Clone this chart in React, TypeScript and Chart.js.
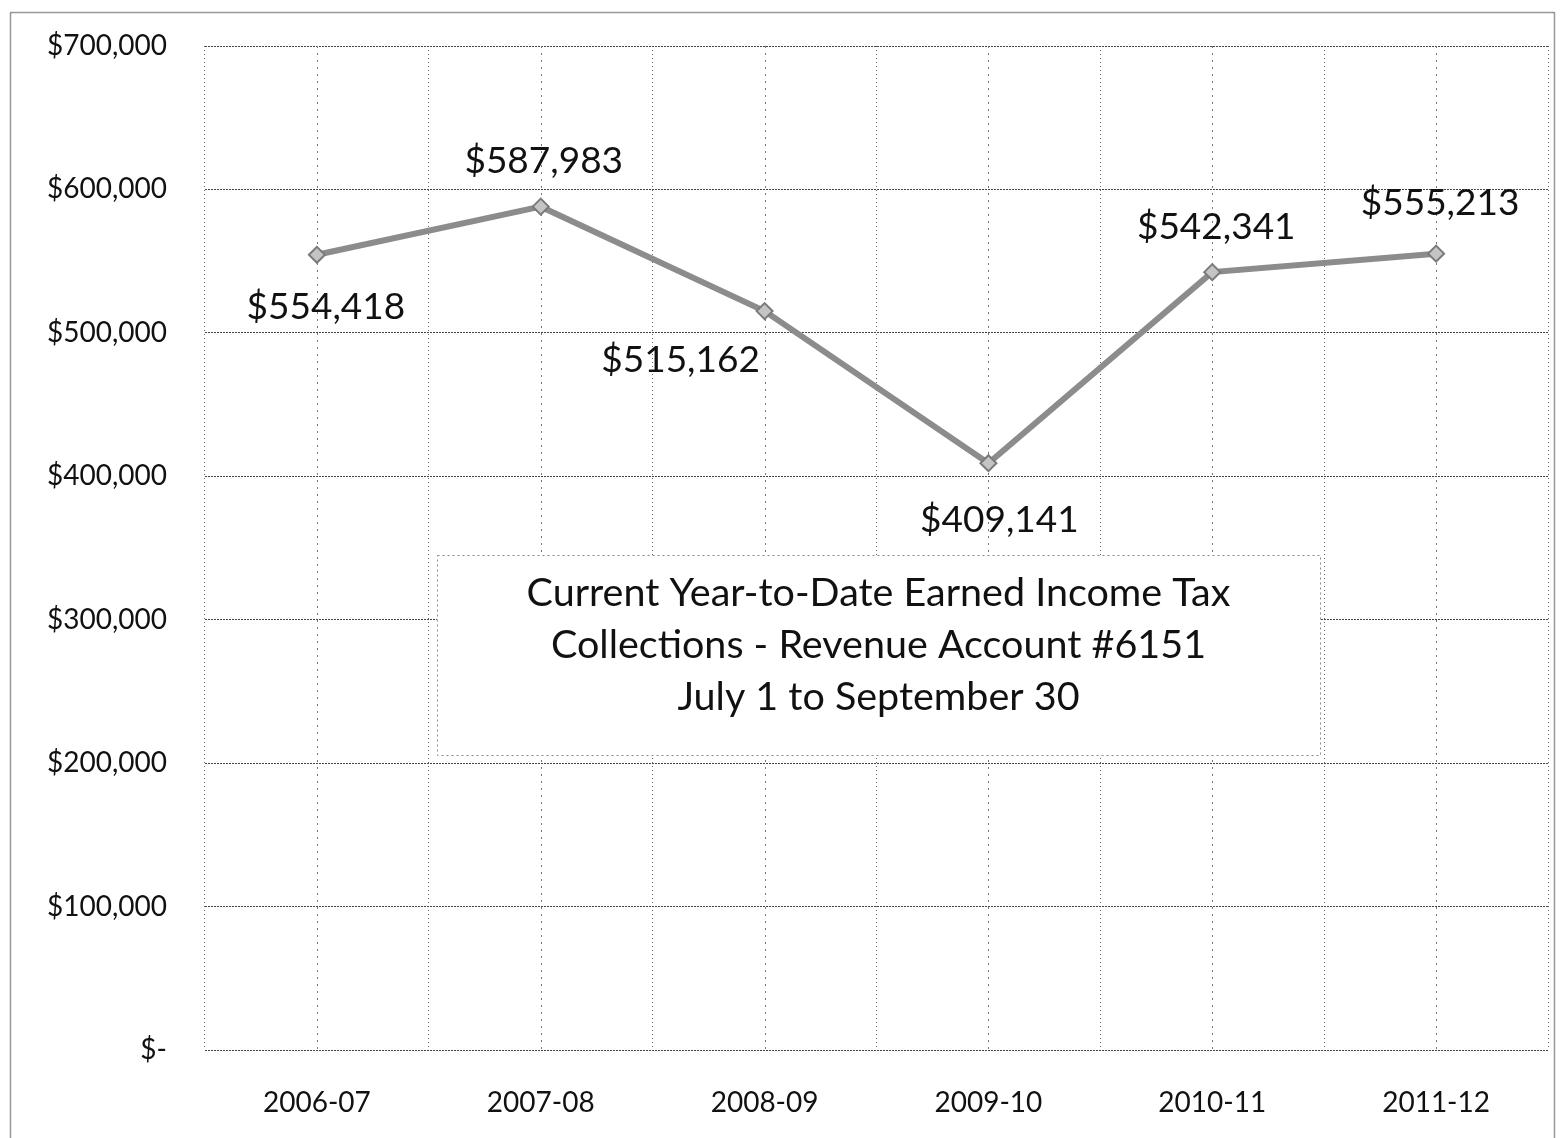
import React, { useEffect, useRef } from 'react';
import { Chart, registerables } from 'chart.js';

Chart.register(...registerables);

const categories = ['2006-07', '2007-08', '2008-09', '2009-10', '2010-11', '2011-12'];
const collections = [554418, 587983, 515162, 409141, 542341, 555213];
const yTickValues = [0, 100000, 200000, 300000, 400000, 500000, 600000, 700000];
const yTickLabels = ['$-', '$100,000', '$200,000', '$300,000', '$400,000', '$500,000', '$600,000', '$700,000'];
const titleLines = [
  'Current Year-to-Date Earned Income Tax',
  'Collections - Revenue Account #6151',
  'July 1 to September 30',
];
// label placement relative to each point (style, not data)
const labelOffsets = [
  [9, 52],
  [3, -46],
  [-84, 49],
  [11, 57],
  [4, -45],
  [4, -51],
];

const FONT = 'Lato, "Noto Sans", sans-serif';

const fmt = (v: number) => '$' + v.toLocaleString('en-US');

const framePlugin = {
  id: 'frame',
  beforeDraw(chart: any) {
    const ctx = chart.ctx;
    ctx.save();
    ctx.fillStyle = '#ffffff';
    ctx.fillRect(0, 0, chart.width, chart.height);
    ctx.strokeStyle = '#333';
    ctx.lineWidth = 1.5;
    ctx.setLineDash([1, 1]);
    ctx.strokeRect(10.5, 12.5, chart.width - 17, chart.height + 10);
    ctx.restore();
  },
  beforeDatasetsDraw(chart: any) {
    // dotted lines through the category centres
    const ctx = chart.ctx;
    const xs = chart.scales.x;
    const { top, bottom } = chart.chartArea;
    ctx.save();
    ctx.strokeStyle = '#777';
    ctx.lineWidth = 1;
    ctx.setLineDash([2, 5]);
    categories.forEach((_, i) => {
      const x = Math.round(xs.getPixelForValue(i)) + 0.5;
      ctx.beginPath();
      ctx.moveTo(x, top);
      ctx.lineTo(x, bottom);
      ctx.stroke();
    });
    ctx.restore();
  },
  afterDatasetsDraw(chart: any) {
    const ctx = chart.ctx;
    const meta = chart.getDatasetMeta(0);
    ctx.save();
    ctx.fillStyle = '#111';
    ctx.font = `37px ${FONT}`;
    ctx.textAlign = 'center';
    ctx.textBaseline = 'middle';
    meta.data.forEach((pt: any, i: number) => {
      const [dx, dy] = labelOffsets[i];
      ctx.fillText(fmt(collections[i]), pt.x + dx, pt.y + dy);
    });

    // title box
    const bx = 437, by = 555, bw = 883, bh = 200;
    ctx.fillStyle = '#ffffff';
    ctx.fillRect(bx, by, bw, bh);
    ctx.strokeStyle = '#888';
    ctx.lineWidth = 1;
    ctx.setLineDash([2, 3]);
    ctx.strokeRect(bx + 0.5, by + 0.5, bw, bh);
    ctx.setLineDash([]);
    ctx.font = `36px ${FONT}`;
    const w = ctx.measureText(titleLines[0]).width;
    const size = Math.max(20, Math.min(44, 36 * (704 / w)));
    ctx.font = `${size}px ${FONT}`;
    ctx.fillStyle = '#111';
    const cx = bx + bw / 2;
    titleLines.forEach((t, i) => {
      ctx.fillText(t, cx, 593 + i * 52);
    });
    ctx.restore();
  },
};

export default function App() {
  const ref = useRef<HTMLCanvasElement>(null);

  useEffect(() => {
    if (!ref.current) return;
    const chart = new Chart(ref.current, {
      type: 'line',
      data: {
        labels: categories,
        datasets: [
          {
            data: collections,
            borderColor: '#8c8c8c',
            borderWidth: 6,
            pointStyle: 'rectRot',
            pointRadius: 8,
            pointBackgroundColor: '#c4c4c4',
            pointBorderColor: '#7a7a7a',
            pointBorderWidth: 2,
            tension: 0,
          },
        ],
      },
      options: {
        responsive: false,
        animation: false,
        devicePixelRatio: 1,
        layout: { padding: { top: 46, right: 13, bottom: 0, left: 0 } },
        plugins: {
          legend: { display: false },
          tooltip: { enabled: false },
          title: { display: false },
        },
        scales: {
          x: {
            type: 'category',
            offset: true,
            afterFit: (s: any) => {
              s.height = 88;
              s.paddingLeft = 0;
              s.paddingRight = 0;
            },
            grid: {
              offset: true,
              color: '#666',
              lineWidth: 1,
              drawTicks: false,
            },
            border: { display: false, dash: [1, 3] },
            ticks: {
              padding: 36,
              color: '#111',
              font: { family: FONT, size: 28 },
              maxRotation: 0,
            },
          },
          y: {
            min: 0,
            max: 700000,
            afterFit: (s: any) => {
              s.width = 205;
              s.paddingTop = 0;
              s.paddingBottom = 0;
            },
            afterBuildTicks: (s: any) => {
              s.ticks = yTickValues.map((v) => ({ value: v }));
            },
            grid: {
              color: '#444',
              lineWidth: 1,
              drawTicks: false,
            },
            border: { display: false, dash: [2, 1] },
            ticks: {
              padding: 38,
              color: '#111',
              font: { family: FONT, size: 28 },
              callback: (v: any) => {
                const i = yTickValues.indexOf(Number(v));
                return i >= 0 ? yTickLabels[i] : '';
              },
            },
          },
        },
      },
      plugins: [framePlugin],
    });
    return () => chart.destroy();
  }, []);

  return (
    <div style={{ position: 'fixed', left: 0, top: 0, width: 1561, height: 1138, background: '#fff' }}>
      <canvas ref={ref} width={1561} height={1138} style={{ display: 'block' }} />
    </div>
  );
}
